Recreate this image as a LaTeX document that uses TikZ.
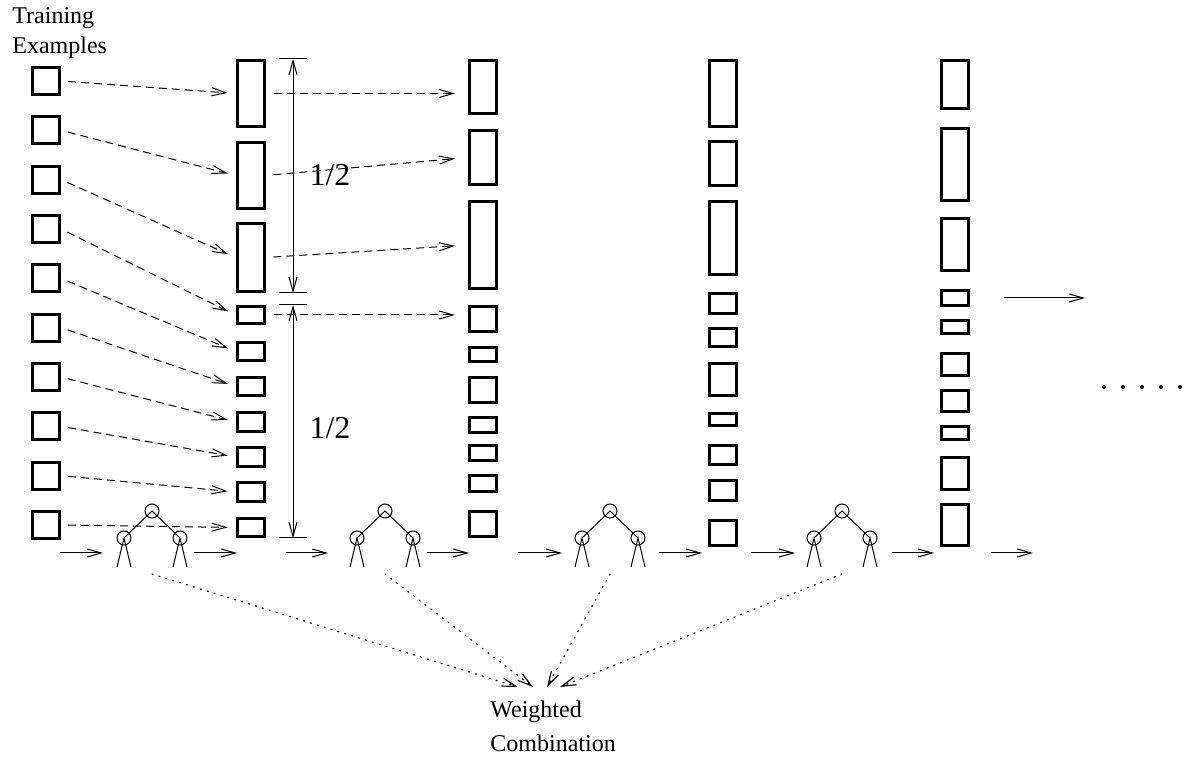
\documentclass[tikz,border=0pt]{standalone}
\usepackage{fontspec}
\setmainfont{Liberation Serif}
\usetikzlibrary{calc,arrows.meta}

\begin{document}
\begin{tikzpicture}[x=0.5pt,y=-0.5pt]

\tikzset{wbox/.style={draw,line width=1.5pt,inner sep=0pt,minimum width=13.5pt},
tnode/.style={draw,circle,line width=0.5pt,inner sep=0pt,minimum size=7pt},
flow/.style={line width=0.5pt,-{Straight Barb[length=7pt,width=4pt]}},
moved/.style={flow,dash pattern=on 4pt off 2.5pt},
vote/.style={flow,line width=0.6pt,dash pattern=on 0.6pt off 3pt,line cap=round},
dim/.style={line width=0.5pt,{Straight Barb[length=7pt,width=4pt]}-{Straight Barb[length=7pt,width=4pt]}}}

\useasboundingbox (0,0) rectangle (1188,758);

% Training examples
\node[align=left,anchor=north west,inner sep=0pt,font=\fontsize{12}{15}\selectfont] (title) at (12,7) {Training\\Examples};
\foreach \i in {1,...,10}
  \node[wbox,minimum height=13.5pt] (s\i) at (46,{81+49.33*(\i-1)}) {};

% Weights after each round
\foreach \ya/\yb [count=\i] in {59/128,141/210,222/293,305/325,341/362,376/397,411/433,446/468,481/503,517/538}
  \node[wbox,minimum height={(\yb-\ya-3)/2}] (s\i a) at (250.5,{(\ya+\yb)/2}) {};
\foreach \ya/\yb [count=\i] in {59/115,129/186,200/290,305/333,346/363,376/404,416/434,444/462,474/493,510/538}
  \node[wbox,minimum height={(\yb-\ya-3)/2}] (s\i b) at (483,{(\ya+\yb)/2}) {};
\foreach \ya/\yb [count=\i] in {59/128,140/187,200/276,292/315,327/348,362/397,412/427,444/466,479/502,519/547}
  \node[wbox,minimum height={(\yb-\ya-3)/2}] (s\i c) at (723,{(\ya+\yb)/2}) {};
\foreach \ya/\yb [count=\i] in {59/110,127/202,217/272,289/307,319/335,352/377,389/413,425/441,456/491,503/547}
  \node[wbox,minimum height={(\yb-\ya-3)/2}] (s\i d) at (955,{(\ya+\yb)/2}) {};

% Trees
\foreach \x [count=\k] in {152,385,610,842} {
  \node[tnode] (h\k) at (\x,511) {};
  \node[tnode] (h\k l) at (\x-28,538) {};
  \node[tnode] (h\k r) at (\x+28,538) {};
  \draw[line width=0.5pt] (h\k l.center) -- (h\k.center) -- (h\k r.center);
  \foreach \c in {l,r} \draw[line width=0.5pt] ($(h\k\c.center)+(-7,29)$) -- (h\k\c.center) -- +(7,29);
}

% Flow along the bottom
\foreach \a/\b [count=\k] in {60/103,194/237,286/328,427/469,518/562,659/702,751/795,892/934,991/1033} {
  \coordinate (f\k) at (\a,553);
  \coordinate (g\k) at (\b,553);
  \draw[flow] (f\k) -- (g\k);
}

% Reweighting
\foreach \i in {1,...,10} \draw[moved,shorten <=3.5pt,shorten >=4pt] (s\i.east) -- (s\i a.west);
\draw[moved,shorten <=4pt,shorten >=6.5pt] (s1a.east) -- (s1a.east -| s1b.west);
\draw[moved,shorten <=4pt,shorten >=6.5pt] (s2a.east) -- (s2b.west);
\draw[moved,shorten <=4pt,shorten >=6.5pt] (s3a.east) -- (s3b.west);
\draw[moved,shorten <=4pt,shorten >=6.5pt] (s4a.east) -- (s4a.east -| s4b.west);

% Dimensions
\coordinate (dimx) at (293,0);
\draw[dim] (s1a.north -| dimx) -- (s3a.south -| dimx);
\draw[dim] (s4a.north -| dimx) -- (s10a.south -| dimx);
\foreach \n in {s1a.north,s3a.south,s4a.north,s10a.south} \draw[line width=0.5pt] (\n -| dimx) ++(-14,0) -- +(28,0);
\node[font=\fontsize{16}{19}\selectfont] (half1) at (330,175) {1/2};
\node[font=\fontsize{16}{19}\selectfont] (half2) at (330,428) {1/2};

% More rounds
\coordinate (more) at (1085,0);
\draw[flow,shorten <=17pt] (s4d.east) -- (s4d.east -| more);
\foreach \k in {0,...,4} \fill (1104+19*\k,387) circle (1pt);

% Combination of the trees
\node[align=left,anchor=north west,inner sep=0pt,font=\fontsize{12}{17}\selectfont] (comb) at (490,700) {Weighted\\Combination};
\foreach \k/\dx in {1/28,2/43,3/57,4/70} \draw[vote] ($(h\k)+(0,63)$) -- ($(comb.north west)+(\dx,-13)$);

\end{tikzpicture}
\end{document}
